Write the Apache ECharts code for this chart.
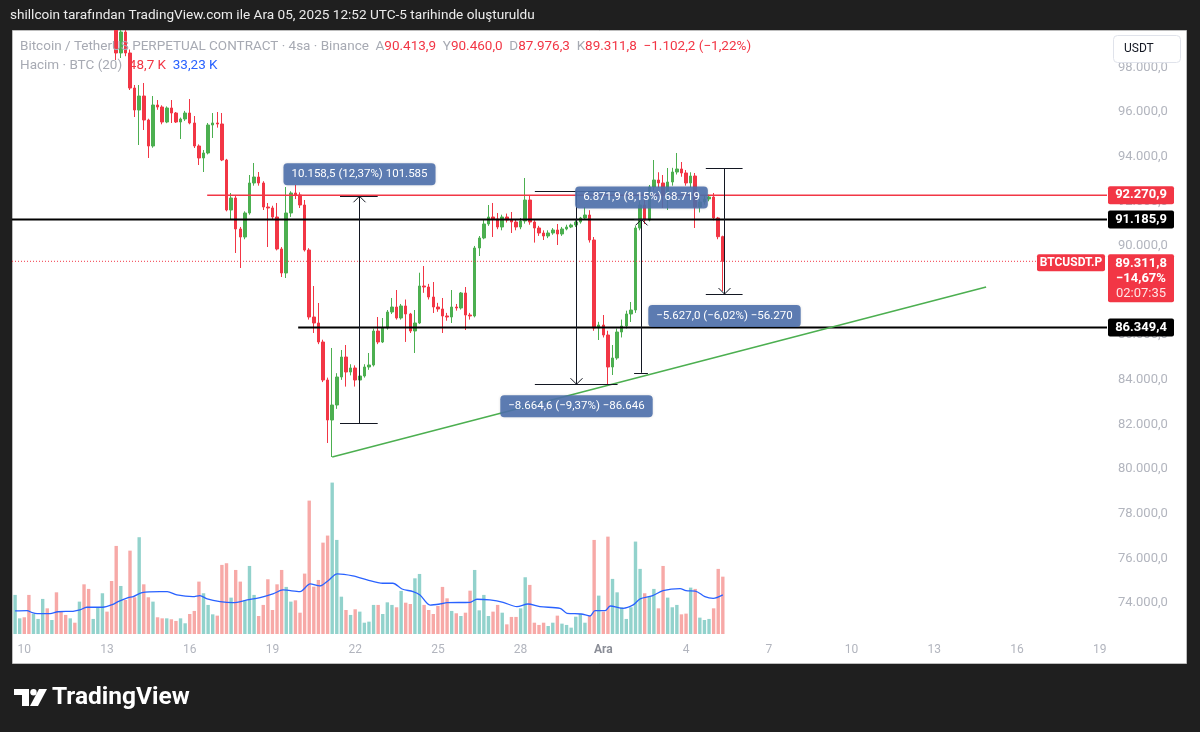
<!DOCTYPE html>
<html>
<head>
<meta charset="utf-8">
<script src="https://cdn.jsdelivr.net/npm/echarts@6/dist/echarts.min.js"></script>
<style>
html,body{margin:0;padding:0;background:#1f1f1f;}
#chart{width:1200px;height:732px;}
</style>
</head>
<body>
<div id="chart"></div>
<script>
const FONT = 'Roboto, "Noto Sans", sans-serif';

// ---- time axis (bar index = 4h bars, bar 0 = 9 Nov 19:00 UTC-5) ----
const dayTickLabels = ['10','13','16','19','22','25','28','Ara','4','7','10','13','16','19'];
const dayTickBar = [2,20,38,56,74,92,110,128,146,164,182,200,218,236];
const priceTicks = [74000,76000,78000,80000,82000,84000,86000,88000,90000,92000,94000,96000,98000];

// ---- candles: [open, close, low, high] ----
const candles = [
[103800,104400,103600,104600],[104400,104700,104200,104900],[104700,104400,104100,104900],[104400,104100,103800,104700],[104100,105200,104000,105400],[105200,105900,105000,106200],[105900,106300,105700,106600],[106300,105800,105500,106400],[105800,106000,105600,106200],[106000,105100,104900,106100],
[105100,103900,103600,105200],[103900,103200,102900,104100],[103200,103500,103000,103700],[103500,103000,102700,103700],[103000,103400,102800,103600],[103400,101800,101300,103500],[101800,101400,100800,102100],[101400,102300,101200,102500],[102300,102800,102100,103000],[102800,103100,102600,103400],
[103100,101900,101600,103200],[101900,100300,99900,102000],[100300,98644,98330,100500],[98644,99584,98420,99900],[99584,98644,98500,99800],[98644,97074,96986,98800],[97074,96090,95776,97210],[96090,96717,94522,97210],[96717,95642,95194,97300],[95642,94477,93940,95700],
[94477,96314,94400,96717],[96314,96224,96100,96538],[96224,95552,95450,96300],[95552,96180,95500,96250],[96180,95955,95508,96538],[95955,95552,95508,96000],[95552,95687,94791,95750],[95687,95955,95600,96050],[95955,95508,95450,96582],[95508,94477,94388,95821],
[94477,93940,93626,94550],[93940,94164,93312,94298],[94164,95418,94100,95508],[95418,95508,94836,95955],[95508,95463,95300,96000],[95463,93850,93800,95955],[93850,91610,91550,93900],[91610,92148,91162,92372],[92148,90759,89684,92250],[90759,90400,89012,90850],
[90400,91476,90300,91550],[91476,92820,91400,93178],[92820,93088,92700,93716],[93088,92820,92700,93312],[92820,91744,91610,92900],[91744,91700,89952,91924],[91700,91296,91200,91800],[91296,89863,89800,91924],[89863,88788,88608,89950],[88788,91476,88564,92640],
[91476,92372,91300,92450],[92372,92282,92100,92730],[92282,91834,91700,92400],[91834,89818,89750,92058],[89818,86816,86700,89900],[86816,86548,86100,88205],[86548,85696,85600,87444],[85696,83994,83900,85800],[83994,82202,81172,84100],[82202,82874,80544,85428],
[82874,84128,82700,84300],[84128,85024,84000,85338],[85024,84352,83698,85562],[84352,84532,84200,84700],[84532,83994,83700,84650],[83994,84173,83546,84756],[84173,84576,84100,84700],[84576,84666,84450,85204],[84666,86189,84600,86300],[86189,85696,85600,86816],
[85696,86324,85650,86772],[86324,87040,86250,87130],[87040,87264,86950,87668],[87264,86772,86700,88026],[86772,87310,86700,87400],[87310,86951,85700,87600],[86951,86189,86100,87000],[86189,86548,85204,87130],[86548,88205,86500,88800],[88205,88160,87900,89100],
[88160,87712,87600,88300],[87712,87264,86996,88384],[87264,87175,87050,87450],[87175,86862,86100,87668],[86862,86816,86650,87000],[86816,87264,86548,88026],[87264,87220,87100,87400],[87220,87892,87150,87936],[87892,86906,86234,88160],[86906,86862,86700,87000],
[86862,89908,86800,90000],[89908,90356,89549,90445],[90356,90983,90300,91162],[90983,91296,90900,91834],[91296,91207,90400,91924],[91207,90848,90750,91476],[90848,91296,90700,91400],[91296,91162,91050,91450],[91162,91072,90580,91520],[91072,90848,90700,91200],
[90848,91117,90750,91250],[91117,92058,91000,93044],[92058,91072,90950,92250],[91072,90804,90150,91150],[90804,90580,90450,90900],[90580,90445,90266,90700],[90445,90580,90350,90700],[90580,90714,90500,90800],[90714,90535,90042,90983],[90535,90759,90450,90850],
[90759,90848,90700,90950],[90848,90938,90800,91000],[90938,91072,90850,91150],[91072,91252,91000,91300],[91252,91386,91200,91744],[91386,90266,90150,91600],[90266,86324,86200,90400],[86324,86458,85786,86600],[86458,86010,85900,86906],[86010,84576,83805,86200],
[84576,84980,84218,85562],[84980,86144,84900,86300],[86144,86413,85900,86700],[86413,86951,86300,87100],[86951,87130,86592,87489],[87130,90804,87000,90900],[90804,91834,90700,92000],[91834,91162,90983,92100],[91162,92640,91100,92730],[92640,92954,92500,93850],
[92954,92820,92600,93300],[92820,92282,91700,93178],[92282,92864,91610,93492],[92864,93312,92700,93500],[93312,93447,93200,94164],[93447,93268,93100,93760],[93268,92820,92700,93400],[92820,93133,92600,93300],[93133,91744,90804,93268],[91744,91968,91500,92100],
[91968,92103,91850,92250],[92103,92192,92000,92300],[92192,91252,91150,92372],[91252,90414,90300,91300],[90413.9,89311.8,87976.3,90460]
];

// ---- volume (thousand BTC) ----
const volumeK = [
33.2,13.3,14.2,33.2,17,12.8,29.8,21.8,11.9,35.4, 18.7,16.2,13.3,9.6,27.5,42.2,38.3,12.8,22.7,34.6,
19,45,74.8,40.8,28.9,70.8,31.2,82.2,42.2,31.2, 27.5,14.2,13.3,13.3,12.5,11.1,13.3,9.1,17,19.6,
44.5,34.6,24.7,16.7,15.6,58.7,60.1,30.9,54.4,44.5, 28.6,57.8,33.2,15.3,24.7,46.5,20.4,42.2,54.4,40,
27.5,28.6,18.1,51.3,113.3,40.2,45.9,77.6,83.6,128.6, 79.9,31.7,20.4,16.2,21,19,9.6,10.5,24.7,24.7,
17,26.9,24.7,22.7,
36.6,26.6,25.5,47.3,51,24.7,20.4,17,23.8,40, 30.3,19.6,17.6,15.3,18.1,36.8,54.4,20.1,33.2,15.3,
19,24.7,18.1,8.2,14.5,14.5,21.8,48.2,41.7,9.6, 7.7,9.6,6.8,9.6,15.6,8.8,7.7,5.4,14.7,17,
9.6,15.3,79.9,32.6,19,82.7,46.8,35.4,22.7,12.8, 22.7,78.5,55.3,34.6,31.7,38.3,21.8,57.8,30.9,22.7,
24.7,16.7,17.3,39.4,38.3,13.9,11.9,12.8,21.8,55.3, 48.7
];

// ---- volume MA(20) ----
const volMaBar = [0,2.6,3.7,4.8,7.6,9.3,12.6,14.1,15.6,19.1,21.3,22.4,24.6,25.7,27.6,31.5,33.1,35.2,38.7,40.2,41.8,44.6,47.4,50.5,53.3,56.1,58.3,62,64.2,66.3,68.1,70.1,73.5,76.6,80,82.2,84.2,86.6,88.1,90.3,92.5,94,99,100.5,103.3,106.2,109.2,111.6,114.2,118.6,120.1,123.2,125.1,126.2,128.4,129.5,132.3,134.5,136,138.6,141,144.7,146,148,150.1,151.9,154];
const volMaK = [19.6,19.8,18.1,17.3,17.3,18.9,19.3,20.4,22.7,22.7,25.2,27.5,30.9,31.7,35.1,36,36,33.2,31.7,32.6,29.8,27.5,26.6,28.9,30.9,34,37.4,36,42.5,40.8,45.3,51,49.3,45.9,43.1,43.1,38.2,36,33.2,24.6,25.5,26.6,26.9,29.5,28.9,26.9,23.2,25.5,23.2,21.8,17.6,17,15.3,19.8,19.8,23.8,21.8,24.7,29.8,32.3,36.8,38.5,36.8,36.5,31.7,30.3,33.23];

// ---- drawings ----
const hLevels = [92270.9, 91185.9, 86349.4];
const hLevelFromBar = [41.8, -0.675, 61.6];
const trendBar = [69, 211.3];
const trendPrice = [80544, 88160];
const measureBar = [74.8, 122.1, 136.2, 154.3];
const measureHalf = [4.1, 9.0, 1.5, 4.0];
const measureFrom = [82067, 92470, 84318, 93472];
const measureTo = [92225.5, 83805.4, 91189.9, 87845];
const measureText = ['10.158,5 (12,37%) 101.585', '\u22128.664,6 (\u22129,37%) \u221286.646', '6.871,9 (8,15%) 68.719', '\u22125.627,0 (\u22126,02%) \u221256.270'];
const priceTagEndBar = 222.4;
const currentExtra = ['\u221214,67%', '02:07:35'];

const X_MIN = -0.675, X_MAX = 237.6, Y_MIN = 72615, Y_MAX = 99674, VOL_MAX = 513;

function trNum(v, dec) {
  const neg = v < 0;
  const s = Math.abs(v).toFixed(dec);
  let [ip, fp] = s.split('.');
  ip = ip.replace(/\B(?=(\d{3})+(?!\d))/g, '.');
  return (neg ? '\u2212' : '') + ip + (fp !== undefined ? ',' + fp : '');
}

const UP = '#4caf50', DOWN = '#f23645';
const VUP = '#92d2cc', VDOWN = '#f7a9a7';

const last = candles[candles.length - 1];
const prevClose = candles[candles.length - 2][1];
const chg = last[1] - prevClose;
const chgPct = chg / prevClose * 100;
const lastClose = last[1];

const chart = echarts.init(document.getElementById('chart'));

function renderMeasure(params, api) {
  const i = params.dataIndex;
  const j = api.value(0), from = api.value(1), to = api.value(2), half = api.value(3);
  const pf = api.coord([j, from]), pt = api.coord([j, to]);
  const xl = api.coord([j - half, from])[0], xr = api.coord([j + half, from])[0];
  const x = Math.round(pf[0]) + 0.5;
  const up = to > from;
  const d = up ? 1 : -1;
  const st = {stroke: '#131722', lineWidth: 1};
  return {type: 'group', children: [
    {type: 'line', shape: {x1: x, y1: pf[1], x2: x, y2: pt[1]}, style: st},
    {type: 'line', shape: {x1: xl, y1: Math.round(pf[1]) + 0.5, x2: xr, y2: Math.round(pf[1]) + 0.5}, style: st},
    {type: 'line', shape: {x1: xl, y1: Math.round(pt[1]) + 0.5, x2: xr, y2: Math.round(pt[1]) + 0.5}, style: st},
    {type: 'polyline', shape: {points: [[x - 6, pt[1] + 6 * d], [x, pt[1]], [x + 6, pt[1] + 6 * d]]}, style: {stroke: '#131722', lineWidth: 1, fill: null}},
    {type: 'text', z2: 10, style: {
      x: x, y: up ? pt[1] - 11 : pt[1] + 11, text: measureText[i],
      align: 'center', verticalAlign: up ? 'bottom' : 'top',
      fill: '#ffffff', font: '11.5px ' + FONT,
      backgroundColor: 'rgba(78,112,172,0.9)', padding: [5, 8, 5, 8], borderRadius: 4,
      shadowBlur: 3, shadowColor: 'rgba(0,0,0,0.15)'
    }}
  ]};
}

const tagStyles = [
  {bg: '#f23645'}, {bg: '#000000'}, {bg: '#000000'}
];
function renderTag(params, api) {
  const i = params.dataIndex;
  const p = api.value(1);
  const y = api.coord([X_MAX, p])[1];
  const x0 = params.coordSys.x + params.coordSys.width + 1;
  if (i < 3) {
    return {type: 'group', children: [
      {type: 'rect', shape: {x: x0, y: y - 9, width: 66, height: 18, r: 2}, style: {fill: tagStyles[i].bg}},
      {type: 'text', style: {x: x0 + 33, y: y, text: trNum(p, 1), align: 'center', verticalAlign: 'middle', fill: '#fff', font: 'bold 13px ' + FONT}}
    ]};
  }
  // current price
  return {type: 'group', children: [
    {type: 'rect', shape: {x: x0, y: y - 7, width: 66, height: 48, r: 2}, style: {fill: '#f23645'}},
    {type: 'text', style: {x: x0 + 33, y: y - 5, text: '{a|' + trNum(p, 1) + '}\n{a|' + currentExtra[0] + '}\n{b|' + currentExtra[1] + '}', align: 'center', verticalAlign: 'top',
      rich: {a: {fill: '#fff', font: 'bold 13px ' + FONT, lineHeight: 15}, b: {fill: '#ffe3e5', font: '13px ' + FONT, lineHeight: 15}}}},
    {type: 'rect', shape: {x: x0 - 71, y: y - 7, width: 68, height: 17, r: 2}, style: {fill: '#f23645'}},
    {type: 'text', style: {x: x0 - 37, y: y + 1.5, text: 'BTCUSDT.P', align: 'center', verticalAlign: 'middle', fill: '#fff', font: 'bold 12px ' + FONT}}
  ]};
}

const hLineSeries = hLevels.map((p, i) => ({
  type: 'line', silent: true, symbol: 'none', z: 4, animation: false,
  data: [[hLevelFromBar[i], p], [X_MAX, p]],
  lineStyle: i === 0 ? {color: '#f23645', width: 1.5} : {color: '#000000', width: 2}
}));

const option = {
  backgroundColor: '#1f1f1f',
  animation: false,
  grid: {left: 12, top: 30, width: 1095, height: 604, containLabel: false},
  xAxis: {
    type: 'value', min: X_MIN, max: X_MAX,
    axisLine: {show: false}, axisTick: {show: false}, splitLine: {show: false},
    axisLabel: {
      customValues: dayTickBar, margin: 10, color: '#b2b5be', fontSize: 12, fontFamily: FONT,
      formatter: v => {
        const s = dayTickLabels[dayTickBar.indexOf(v)];
        return s === 'Ara' ? '{m|Ara}' : s;
      },
      rich: {m: {color: '#8b8e97', fontWeight: 'bold', fontSize: 12, fontFamily: FONT}}
    }
  },
  yAxis: [
    {
      type: 'value', position: 'right', min: Y_MIN, max: Y_MAX,
      axisLine: {show: false}, axisTick: {show: false}, splitLine: {show: false},
      axisLabel: {customValues: priceTicks, margin: 11, color: '#b2b5be', fontSize: 13, fontFamily: FONT,
        formatter: v => trNum(v, 1)}
    },
    {type: 'value', min: 0, max: VOL_MAX, show: false}
  ],
  series: [
    {
      type: 'bar', yAxisIndex: 1, barWidth: 3.4, z: 1, silent: true,
      data: volumeK.map((v, j) => ({value: [j, v], itemStyle: {color: candles[j][1] >= candles[j][0] ? VUP : VDOWN}}))
    },
    {
      type: 'line', yAxisIndex: 1, symbol: 'none', smooth: 0.3, z: 2, silent: true,
      data: volMaBar.map((b, i) => [b, volMaK[i]]),
      lineStyle: {color: '#2962ff', width: 1.3}
    },
    {
      type: 'candlestick', z: 3, clip: true, barWidth: 3, silent: true,
      encode: {x: 0, y: [1, 2, 3, 4]},
      data: candles.map((c, j) => [j, c[0], c[1], c[2], c[3]]),
      itemStyle: {color: UP, color0: DOWN, borderColor: UP, borderColor0: DOWN, borderWidth: 1}
    },
    {
      type: 'line', silent: true, symbol: 'none', z: 4,
      data: [[X_MIN, lastClose], [priceTagEndBar, lastClose]],
      lineStyle: {color: '#f23645', width: 1, type: [1, 2]}
    },
    ...hLineSeries,
    {
      type: 'line', silent: true, symbol: 'none', z: 4,
      data: trendBar.map((b, i) => [b, trendPrice[i]]),
      lineStyle: {color: '#4caf50', width: 1.5}
    },
    {
      type: 'custom', z: 5, clip: false, silent: true,
      renderItem: renderMeasure,
      data: measureBar.map((b, i) => [b, measureFrom[i], measureTo[i], measureHalf[i]])
    },
    {
      type: 'custom', z: 6, clip: false, silent: true,
      renderItem: renderTag,
      data: hLevels.concat([lastClose]).map(p => [X_MAX, p])
    }
  ],
  graphic: {elements: [
    {type: 'rect', z: -5, shape: {x: 12.5, y: 30.5, width: 1174, height: 633}, style: {fill: '#ffffff', stroke: '#bdbdbd', lineWidth: 1}},
    // dark title bar (covers candle parts beyond the pane top)
    {type: 'rect', z: 50, shape: {x: 0, y: 0, width: 1200, height: 30}, style: {fill: '#1f1f1f'}},
    {type: 'text', z: 100, style: {x: 10, y: 16, text: 'shillcoin tarafından TradingView.com ile Ara 05, 2025 12:52 UTC-5 tarihinde oluşturuldu', fill: '#ececec', font: '13.6px ' + FONT, verticalAlign: 'middle'}},
    {type: 'text', z: 100, style: {x: 20, y: 47, verticalAlign: 'middle',
      text: '{g|Bitcoin / TetherUS PERPETUAL CONTRACT · 4sa · Binance}  {g|A}{r|' + trNum(last[0], 1) + '}  {g|Y}{r|' + trNum(last[3], 1) + '}  {g|D}{r|' + trNum(last[2], 1) + '}  {g|K}{r|' + trNum(last[1], 1) + '}  {r|' + trNum(chg, 1) + ' (' + trNum(chgPct, 2) + '%)}',
      font: '13.5px ' + FONT,
      rich: {g: {fill: '#a7aab3', font: '13.5px ' + FONT}, r: {fill: '#f23645', font: '13.5px ' + FONT}}}},
    {type: 'text', z: 100, style: {x: 20, y: 66, verticalAlign: 'middle',
      text: '{g|Hacim · BTC (20)}  {r|' + trNum(volumeK[volumeK.length - 1], 1) + ' K}  {b|' + trNum(volMaK[volMaK.length - 1], 2) + ' K}',
      font: '13.5px ' + FONT,
      rich: {g: {fill: '#a7aab3', font: '13.5px ' + FONT}, r: {fill: '#f23645', font: '13.5px ' + FONT}, b: {fill: '#2962ff', font: '13.5px ' + FONT}}}},
    {type: 'rect', z: 100, shape: {x: 1113.5, y: 35.5, width: 67, height: 27, r: 4}, style: {fill: '#ffffff', stroke: '#e0e3eb', lineWidth: 1}},
    {type: 'text', z: 101, style: {x: 1124, y: 49, text: 'USDT', fill: '#131722', font: '12px ' + FONT, verticalAlign: 'middle'}},
    // TradingView logo
    {type: 'polygon', z: 100, shape: {points: [[14, 689], [29, 689], [29, 706], [22, 706], [22, 695], [14, 695]]}, style: {fill: '#ffffff'}},
    {type: 'circle', z: 100, shape: {cx: 33.5, cy: 692.2, r: 3.2}, style: {fill: '#ffffff'}},
    {type: 'polygon', z: 100, shape: {points: [[39, 689], [47, 689], [38, 706], [30, 706]]}, style: {fill: '#ffffff'}},
    {type: 'text', z: 100, style: {x: 52, y: 698, text: 'TradingView', fill: '#ffffff', font: 'bold 24.5px ' + FONT, verticalAlign: 'middle'}}
  ]}
};

chart.setOption(option);
</script>
</body>
</html>
